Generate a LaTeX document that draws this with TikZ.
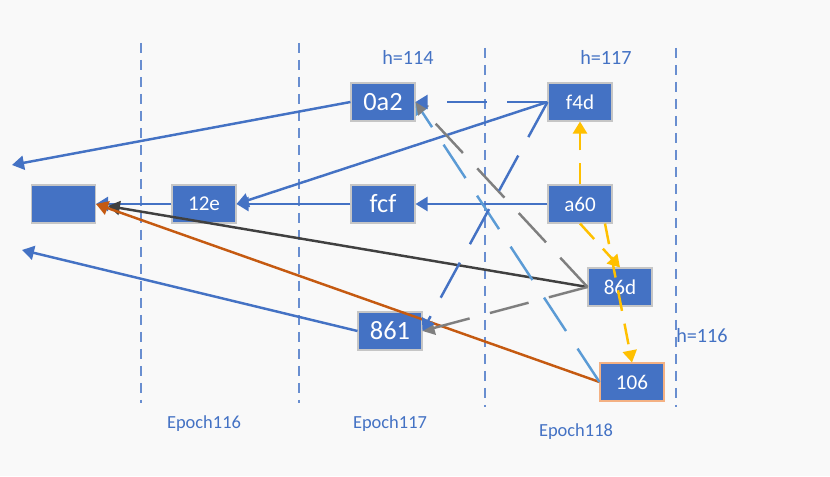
\documentclass[tikz,border=0pt]{standalone}
\usepackage{fontspec}
\setmainfont{Carlito}
\usetikzlibrary{arrows.meta,calc}
\definecolor{boxblue}{HTML}{4472C4}
\definecolor{lineblue}{HTML}{4472C4}
\definecolor{lightblue}{HTML}{5B9BD5}
\definecolor{darkline}{HTML}{404040}
\definecolor{midgray}{HTML}{7F7F7F}
\definecolor{rust}{HTML}{C55A11}
\definecolor{amber}{HTML}{FFC000}
\definecolor{peach}{HTML}{F4B183}
\definecolor{bgpaper}{HTML}{F9F9F9}
\tikzset{
  blk/.style={draw=gray!45,fill=boxblue,text=white,minimum width=1.28cm,minimum height=0.76cm,inner sep=0pt,line width=0.6pt},
  big/.style={font=\fontsize{15}{15}\selectfont},
  small/.style={font=\fontsize{12}{12}\selectfont},
  lbl/.style={text=boxblue,font=\fontsize{11.5}{12}\selectfont},
  epoch/.style={text=boxblue,font=\fontsize{10.5}{12}\selectfont},
  sep/.style={draw=lineblue!80,line width=0.75pt,dash pattern=on 0.2cm off 0.14cm},
  tip/.style={-{Triangle[length=0.24cm,width=0.28cm]}},
  link/.style={tip,line width=1.4pt},
  longdash/.style={tip,line width=1.4pt,dash pattern=on 0.8cm off 0.42cm},
  shortdash/.style={tip,line width=1.4pt,dash pattern=on 0.42cm off 0.26cm}
}
\begin{document}
\begin{tikzpicture}[x=0.02cm,y=-0.02cm]
\fill[bgpaper] (0,0) rectangle (830,476);
\useasboundingbox (0,0) rectangle (830,476);
\draw[sep] (141,43) -- (141,403);
\draw[sep] (299,43) -- (299,403);
\draw[sep] (485,48) -- (485,407);
\draw[sep] (676,48) -- (676,407);
\node[blk] at (63.5,204) (blank) {};
\node[blk,small] at (204,204) (n12e) {12e};
\node[blk,big] at (383,204) (fcf) {fcf};
\node[blk,big] at (383,102) (oa2) {0a2};
\node[blk,small] at (580,102) (f4d) {f4d};
\node[blk,small] at (580,204) (a60) {a60};
\node[blk,small] at (620,287) (n86d) {86d};
\node[blk,big] at (390,331) (n861) {861};
\node[blk,small,draw=peach] at (632,382) (n106) {106};
\node[lbl] at (408,57) (h114) {h=114};
\node[lbl] at (606,57) (h117) {h=117};
\node[lbl] at (702,336) (h116) {h=116};
\node[epoch] at (204,424) (e116) {Epoch116};
\node[epoch] at (390,424) (e117) {Epoch117};
\node[epoch] at (576,432) (e118) {Epoch118};
\coordinate (outa) at (12,165);
\coordinate (outb) at (22,250);
\draw[link,lineblue] (oa2.west) -- (outa);
\draw[link,lineblue] (n861.west) -- (outb);
\draw[link,lineblue] (f4d.west) -- (n12e.east);
\draw[link,lineblue] (a60.west) -- (fcf.east);
\draw[link,lineblue] (fcf.west) -- (n12e.east);
\draw[link,lineblue] (n12e.west) -- (blank.east);
\draw[link,darkline,shorten >=0.24cm] (n86d.west) -- (blank.east);
\draw[link,rust] (n106.west) -- (blank.east);
\draw[longdash,lightblue] (n106.west) -- (oa2.east);
\draw[longdash,midgray] (n86d.west) -- (oa2.east);
\draw[longdash,midgray] (n86d.west) -- (n861.east);
\draw[longdash,lineblue] (f4d.west) -- (oa2.east);
\draw[longdash,lineblue] (f4d.west) -- (n861.east);
\draw[shortdash,amber] (a60.north) -- (f4d.south);
\draw[shortdash,amber] (a60.south) -- (n86d.north);
\draw[shortdash,amber] ($(a60.south)+(25,0)$) -- (n106.north);
\end{tikzpicture}
\end{document}
